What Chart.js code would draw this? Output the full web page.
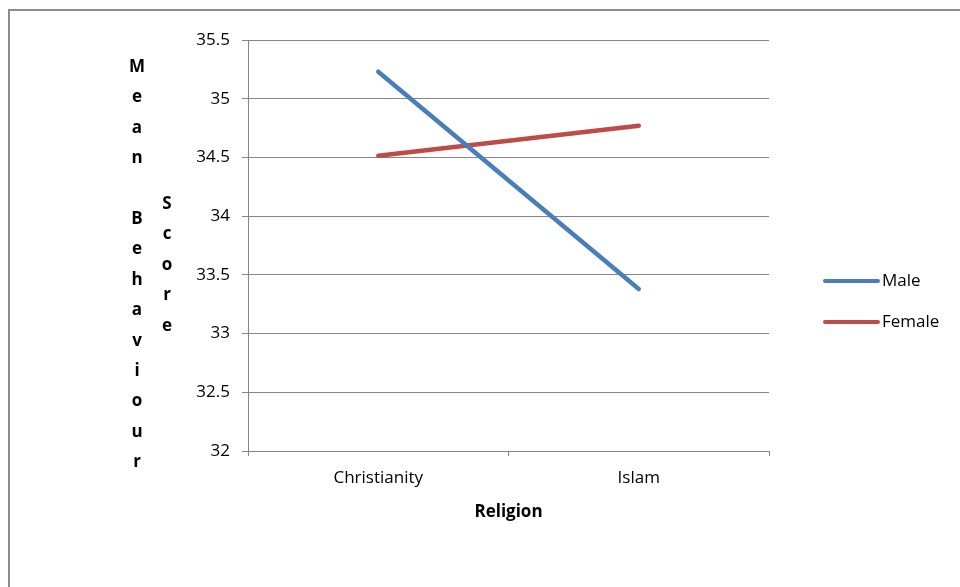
<!DOCTYPE html>
<html>
<head>
<meta charset="utf-8">
<script src="https://cdn.jsdelivr.net/npm/chart.js@4.4.1/dist/chart.umd.min.js"></script>
<style>
  html, body { margin: 0; padding: 0; background: #ffffff; }
  #wrap { width: 960px; height: 587px; }
</style>
</head>
<body>
<div id="wrap"><canvas id="chart" width="960" height="587"></canvas></div>
<script>
// Religion categories and mean behaviour scores by gender
const categories = ['Christianity', 'Islam'];
const maleScores = [35.23, 33.38];
const femaleScores = [34.515, 34.77];
const seriesNames = ['Male', 'Female'];
const yTicks = [32, 32.5, 33, 33.5, 34, 34.5, 35, 35.5];
const xTitle = 'Religion';
const yTitle = 'Mean Behaviour Score';

const FONT = '"Open Sans", Lato, sans-serif';
const GRID = '#868686';
const BLUE = '#4A7EBB';
const RED = '#BE4B48';

// Frame around the chart (top and left edges only visible inside the canvas)
const framePlugin = {
  id: 'frame',
  beforeDraw(chart) {
    const ctx = chart.ctx;
    ctx.save();
    ctx.strokeStyle = '#8c8c8c';
    ctx.lineWidth = 2;
    ctx.beginPath();
    ctx.moveTo(9, 600);
    ctx.lineTo(9, 10);
    ctx.lineTo(970, 10);
    ctx.stroke();
    ctx.restore();
  }
};

// Vertical axis title written as stacked letters in two columns
const stackedTitlePlugin = {
  id: 'stackedTitle',
  afterDraw(chart) {
    const ctx = chart.ctx;
    const words = yTitle.split(' ');
    const columns = [
      { text: words.slice(0, 2).join(' '), x: 137, y: 72 },
      { text: words.slice(2).join(' '), x: 167, y: 209 }
    ];
    ctx.save();
    ctx.fillStyle = '#000';
    ctx.font = 'bold 17px ' + FONT;
    ctx.textAlign = 'center';
    ctx.textBaseline = 'alphabetic';
    columns.forEach(col => {
      [...col.text].forEach((ch, i) => {
        if (ch !== ' ') ctx.fillText(ch, col.x, col.y + i * 30.4);
      });
    });
    ctx.restore();
  }
};

// Legend on the right with line samples
const lineLegendPlugin = {
  id: 'lineLegend',
  afterDraw(chart) {
    const ctx = chart.ctx;
    ctx.save();
    ctx.font = '17px ' + FONT;
    ctx.textBaseline = 'middle';
    ctx.textAlign = 'left';
    chart.data.datasets.forEach((ds, i) => {
      const y = 281 + i * 41;
      ctx.strokeStyle = ds.borderColor;
      ctx.lineWidth = 4;
      ctx.lineCap = 'round';
      ctx.beginPath();
      ctx.moveTo(825, y);
      ctx.lineTo(878, y);
      ctx.stroke();
      ctx.fillStyle = '#000';
      ctx.fillText(ds.label, 882, y);
    });
    ctx.restore();
  }
};

new Chart(document.getElementById('chart'), {
  type: 'line',
  data: {
    labels: categories,
    datasets: [
      { label: seriesNames[0], data: maleScores, borderColor: BLUE, backgroundColor: BLUE },
      { label: seriesNames[1], data: femaleScores, borderColor: RED, backgroundColor: RED }
    ]
  },
  options: {
    responsive: false,
    devicePixelRatio: 1,
    animation: false,
    layout: { padding: { left: 0, top: 40, right: 191, bottom: 0 } },
    elements: {
      line: { borderWidth: 4.5, tension: 0, borderCapStyle: 'round', borderJoinStyle: 'round' },
      point: { radius: 0, hoverRadius: 0 }
    },
    plugins: {
      legend: { display: false },
      tooltip: { enabled: false }
    },
    scales: {
      x: {
        type: 'category',
        offset: true,
        afterFit(scale) { scale.height = 136; },
        grid: {
          display: true,
          offset: true,
          drawOnChartArea: false,
          drawTicks: true,
          tickLength: 5,
          color: GRID,
          lineWidth: 1
        },
        border: { display: true, color: GRID, width: 1 },
        ticks: { color: '#000', font: { family: FONT, size: 17 }, padding: 12 },
        title: {
          display: true,
          text: xTitle,
          color: '#000',
          font: { family: FONT, size: 17, weight: 'bold' },
          padding: { top: 0, bottom: 65 }
        }
      },
      y: {
        min: 32,
        max: 35.5,
        afterFit(scale) { scale.width = 248; },
        afterBuildTicks(scale) { scale.ticks = yTicks.map(v => ({ value: v })); },
        grid: {
          color: GRID,
          lineWidth: 1,
          drawTicks: true,
          tickLength: 6
        },
        border: { display: true, color: GRID, width: 1 },
        ticks: {
          color: '#000',
          font: { family: FONT, size: 17 },
          padding: 12,
          callback: v => String(v)
        }
      }
    }
  },
  plugins: [framePlugin, stackedTitlePlugin, lineLegendPlugin]
});
</script>
</body>
</html>
